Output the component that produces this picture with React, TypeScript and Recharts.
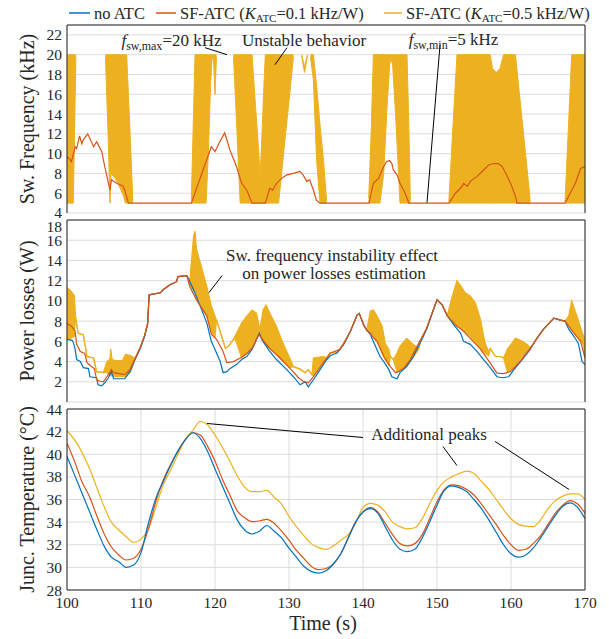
import React from 'react';
import { ComposedChart, Line, Area, XAxis, YAxis, CartesianGrid, ReferenceLine, ReferenceDot } from 'recharts';

// MATLAB default colours
const BLUE = '#0072BD';
const ORANGE = '#D95319';
const YELLOW = '#EDB120';
const AXIS = '#262626';
const GRID = '#dcdcdc';
const SERIF = "'Liberation Serif', 'Times New Roman', serif";
const W = 609;
const H = 639;

const timeTicks = [100, 110, 120, 130, 140, 150, 160, 170];
const freqTicks = [4, 6, 8, 10, 12, 14, 16, 18, 20, 22];
const lossTicks = [2, 4, 6, 8, 10, 12, 14, 16, 18];
const tempTicks = [28, 30, 32, 34, 36, 38, 40, 42, 44];

// ---- switching frequency (kHz) ----
// SF-ATC K=0.1: [t, f]
const freqK01 = [
  [100, 9.7], [100.4, 9.4], [100.6, 9.2], [101.1, 10.7], [101.3, 10.5], [101.7, 11.8], [102.0, 11.0],
  [102.2, 11.4], [102.8, 12.0], [103.6, 10.7], [104.0, 11.2], [104.7, 10.2], [105.1, 8.7], [105.6, 7.0],
  [105.8, 6.3], [106.0, 7.35], [106.7, 7.0], [107.6, 6.7], [107.8, 6.3], [108.3, 5], [116.8, 5],
  [119.5, 10.7], [120.0, 10.2], [120.5, 11.0], [121.3, 12.1], [121.6, 11.4], [122.0, 10.4], [122.9, 8.7],
  [123.6, 7.0], [124.3, 6.3], [125.0, 5], [126.8, 5], [127.4, 6.5], [127.8, 6.3], [128.3, 7.0],
  [129.0, 7.5], [129.7, 7.85], [130.6, 8.0], [131.5, 8.2], [131.9, 7.85], [132.4, 7.2], [132.8, 7.35],
  [133.3, 6.3], [133.7, 5.3], [134.2, 5], [140.8, 5], [141.4, 7.0], [142.1, 7.5], [142.6, 8.35],
  [142.8, 8.7], [143.2, 9.2], [143.6, 9.3], [143.9, 9.0], [144.1, 8.35], [144.6, 7.85], [145.0, 7.0],
  [145.7, 6.0], [146.2, 5], [151.6, 5], [152.5, 6.0], [152.9, 6.3], [153.4, 6.7], [153.6, 7.0],
  [154.1, 6.7], [154.5, 7.2], [155.4, 7.7], [156.3, 8.35], [157.0, 8.85], [157.7, 9.0], [158.3, 9.0],
  [158.8, 8.7], [159.5, 7.7], [160.1, 6.7], [160.6, 5.7], [160.8, 5], [167.3, 5], [168.0, 6.0],
  [168.7, 7.0], [169.4, 8.5], [170, 8.7],
];

// SF-ATC K=0.5: oscillation envelopes [t, low, high], one list per unstable burst
const freqK05Bands = [
  [[100, 5, 20], [100.85, 5, 20], [101.03, 12.5, 20], [101.2, 19.8, 20]],
  [[105.2, 19.8, 20], [105.6, 10.8, 20], [105.8, 5, 20], [105.95, 8, 20], [106.5, 7.5, 20], [107.0, 6.8, 20],
    [107.5, 6.0, 20], [107.9, 5, 20], [108.06, 5, 20], [108.5, 5, 12.5], [108.9, 5, 5.2]],
  [[116.8, 5, 5.3], [117.3, 5, 20], [118.8, 5, 20], [119.1, 10, 20], [119.4, 17, 20], [119.6, 19.6, 20],
    [119.8, 19.6, 20], [120.0, 16, 20], [120.2, 19.8, 20]],
  [[122.5, 19.8, 20], [122.95, 12.5, 20], [123.4, 5, 20], [125.0, 5, 20], [125.5, 5, 14.6], [126.0, 5, 9.2],
    [126.1, 5, 7.7], [126.3, 5, 11], [126.6, 5, 16.7], [126.8, 5, 20], [128.6, 5, 20], [129.0, 8, 20],
    [129.5, 11.7, 20], [130.0, 15.3, 20], [130.6, 19.8, 20]],
  [[131.7, 19.9, 20], [132.1, 18.2, 18.8], [132.5, 19.9, 20]],
  [[132.9, 19.8, 20], [133.29, 17.5, 20], [133.74, 9.2, 16.8], [134.19, 5, 12.9], [134.64, 5, 9.5], [135.09, 5, 5.2]],
  [[140.77, 5, 5.5], [141.1, 5, 12], [141.4, 5, 20], [142.3, 5, 20], [142.8, 8, 20], [143.2, 14, 20],
    [143.6, 19, 20], [143.8, 19.6, 20], [144.0, 19, 20], [144.4, 14, 20], [144.8, 8, 20], [145.0, 5, 20],
    [145.95, 5, 20], [146.2, 5, 12.5], [146.4, 5, 5.2]],
  [[151.6, 5, 5.2], [152.1, 5, 12], [152.7, 5, 20], [157.2, 5, 20], [157.5, 5, 18.6], [158.0, 5, 18.2],
    [158.5, 5, 18.6], [159.0, 5, 20], [160.6, 5, 20], [161.1, 5, 16.3], [161.6, 5, 12.7], [162.1, 5, 9.0],
    [162.6, 5, 5.2]],
  [[167.3, 5, 5.2], [167.75, 5, 12.5], [168.2, 5, 20], [170, 5, 20]],
];

// ---- power losses (W) ----
const lossNoAtc = [
  [100, 6.2], [100.7, 6.1], [100.9, 5.8], [101.1, 5.2], [101.3, 4.2], [101.8, 4.0], [102.2, 3.4], [102.9, 3.3],
  [103.1, 2.5], [104.0, 2.4], [104.2, 1.7], [104.7, 1.6], [105.1, 1.9], [105.6, 2.4], [106.0, 3.0], [106.3, 2.3],
  [107.8, 2.3], [108.5, 3.0], [109.2, 4.2], [109.9, 5.3], [110.5, 6.5], [110.9, 7.7], [111.1, 10.6], [112.6, 10.8],
  [113.0, 11.1], [113.9, 11.6], [114.8, 11.9], [115.0, 12.4], [116.2, 12.5], [116.6, 11.9], [117.1, 11.1],
  [118.0, 9.5], [118.9, 7.8], [119.5, 6.0], [120.0, 5.2], [120.7, 4.0], [121.1, 2.9], [121.6, 3.0], [122.0, 3.3],
  [122.9, 3.7], [123.6, 4.2], [124.3, 4.5], [125.0, 5.2], [125.6, 6.2], [126.0, 6.8], [126.3, 6.2], [127.2, 5.2],
  [128.3, 4.2], [129.7, 3.2], [130.6, 2.5], [131.5, 1.7], [132.2, 2.0], [132.6, 1.5], [133.3, 2.2], [134.2, 3.2],
  [135.1, 4.2], [135.6, 4.6], [136.5, 4.85], [137.4, 5.7], [138.3, 7.0], [139.2, 8.6], [139.5, 8.75], [140.1, 7.6],
  [140.5, 7.1], [141.0, 6.7], [141.2, 6.3], [141.7, 5.5], [142.3, 4.5], [142.8, 4.0], [143.5, 3.2], [143.9, 2.5],
  [144.6, 2.3], [145.0, 2.9], [145.9, 3.5], [146.8, 4.5], [147.7, 5.8], [148.6, 7.2], [149.5, 9.1], [150.0, 10.1],
  [150.7, 9.6], [151.4, 8.5], [152.3, 7.6], [153.2, 6.8], [153.6, 6.0], [154.5, 5.7], [155.4, 5.0], [156.3, 4.2],
  [157.2, 3.4], [158.1, 2.5], [158.8, 2.4], [159.7, 2.5], [160.4, 3.2], [161.3, 4.0], [162.6, 5.2], [163.5, 6.3],
  [164.4, 7.2], [165.8, 8.3], [166.7, 8.1], [167.3, 8.0], [167.8, 7.2], [168.5, 6.5], [169.1, 5.8], [169.6, 4.0],
  [170, 3.7],
];

const lossK01 = [
  [100, 7.75], [100.6, 7.5], [101.1, 7.0], [101.3, 5.7], [101.8, 5.0], [102.4, 4.8], [102.7, 3.9], [103.3, 3.5],
  [103.7, 3.3], [104.0, 2.2], [104.5, 2.05], [104.9, 2.0], [105.4, 2.5], [106.0, 3.2], [106.3, 2.9], [107.8, 2.7],
  [108.5, 3.2], [109.2, 4.3], [109.9, 5.4], [110.5, 6.6], [110.9, 7.8], [111.1, 10.6], [112.6, 10.8], [113.0, 11.1],
  [113.9, 11.6], [114.8, 11.9], [115.0, 12.4], [116.2, 12.5], [116.6, 11.4], [117.5, 10.1], [118.9, 8.5],
  [119.5, 6.7], [120.2, 6.2], [121.1, 5.0], [121.6, 3.9], [122.5, 4.0], [123.4, 4.35], [124.3, 4.8], [125.2, 5.5],
  [125.9, 6.7], [126.3, 6.3], [127.4, 5.3], [128.8, 4.35], [130.1, 3.35], [131.3, 2.4], [131.9, 2.05], [132.6, 1.9],
  [133.3, 2.5], [134.6, 3.85], [135.6, 4.85], [136.9, 5.2], [137.4, 5.8], [138.3, 7.0], [139.2, 8.6], [139.5, 8.75],
  [140.1, 7.6], [140.5, 7.1], [141.0, 6.8], [141.2, 6.55], [141.9, 6.0], [142.8, 4.5], [143.7, 3.5], [144.4, 2.9],
  [144.8, 3.0], [145.5, 3.35], [146.4, 4.2], [147.3, 5.5], [148.6, 7.3], [149.5, 9.1], [150.0, 10.1], [150.7, 9.6],
  [151.4, 8.5], [152.7, 7.5], [153.6, 7.0], [154.5, 6.3], [155.9, 5.2], [157.2, 3.85], [158.1, 2.85], [159.0, 2.8],
  [159.9, 3.0], [160.6, 3.5], [161.3, 4.1], [162.6, 5.3], [163.5, 6.3], [164.4, 7.2], [165.8, 8.3], [166.7, 8.1],
  [167.3, 8.0], [167.8, 7.5], [168.5, 6.8], [169.4, 6.0], [170, 4.35],
];

// K=0.5 losses: [t, low, high] (low == high where the trace is a plain line)
const lossK05 = [
  [100, 6.3, 11.3], [100.5, 6.3, 11.0], [101.0, 6.5, 10.5], [101.15, 8.5, 8.5], [101.5, 6.8, 6.8],
  [102.2, 6.65, 6.65], [102.7, 4.5, 4.5], [103.6, 4.35, 4.35], [104.0, 3.0, 3.0], [104.9, 2.9, 2.9],
  [105.4, 2.9, 4.0], [105.8, 2.6, 4.2], [105.9, 2.6, 5.25], [106.1, 2.6, 4.2], [106.5, 2.5, 4.1],
  [107.5, 2.5, 4.1], [107.9, 2.5, 4.7], [108.6, 3.0, 4.6], [109.2, 4.3, 4.3], [109.9, 5.4, 5.4],
  [110.5, 6.6, 6.6], [110.9, 7.8, 7.8], [111.1, 10.6, 10.6], [112.6, 10.8, 10.8], [113.0, 11.1, 11.1],
  [113.9, 11.6, 11.6], [114.8, 11.9, 11.9], [115.0, 12.4, 12.4], [116.2, 12.5, 12.5], [116.6, 11.6, 12.0],
  [117.1, 11.0, 16.4], [117.3, 10.8, 16.9], [117.5, 10.5, 15.1], [118.0, 9.8, 13.8], [118.9, 8.5, 11.4],
  [119.5, 7.0, 9.5], [120.0, 6.4, 8.5], [120.2, 8.1, 8.1], [120.9, 6.5, 6.5], [121.4, 5.3, 5.3],
  [121.8, 5.5, 5.5], [122.3, 6.0, 6.0], [122.7, 6.3, 6.5], [123.6, 4.35, 7.8], [124.3, 4.8, 8.5],
  [125.0, 5.3, 9.1], [125.6, 6.2, 8.8], [126.0, 6.8, 7.4], [126.1, 6.7, 7.3], [126.5, 6.0, 9.1],
  [126.9, 5.6, 9.6], [127.4, 5.3, 8.8], [128.3, 4.7, 7.5], [129.2, 4.0, 5.8], [130.1, 3.4, 4.35],
  [130.6, 3.5, 3.5], [131.5, 3.25, 3.25], [132.2, 2.9, 2.9], [132.6, 3.2, 3.2], [133.1, 2.7, 2.7],
  [133.3, 2.6, 4.35], [134.6, 3.9, 4.5], [135.1, 4.2, 4.4], [135.5, 4.85, 4.85], [136.5, 4.9, 4.9],
  [137.4, 5.8, 5.8], [138.3, 7.0, 7.0], [139.2, 8.6, 8.6], [139.5, 8.75, 8.75], [140.1, 7.6, 7.6],
  [140.5, 7.1, 7.1], [141.0, 6.8, 9.0], [141.4, 6.4, 9.1], [141.9, 6.0, 8.5], [142.6, 4.8, 7.5],
  [143.0, 4.2, 5.8], [143.5, 3.6, 5.2], [143.7, 4.5, 4.5], [144.1, 4.2, 4.2], [144.6, 3.0, 4.85],
  [145.0, 3.1, 5.5], [145.9, 3.5, 6.3], [146.8, 4.4, 5.7], [147.5, 5.2, 5.3], [147.7, 5.8, 5.8],
  [148.6, 7.3, 7.3], [149.5, 9.1, 9.1], [150.0, 10.1, 10.1], [150.7, 9.6, 9.6], [151.4, 8.5, 8.6],
  [152.0, 8.0, 10.3], [152.7, 7.5, 12.0], [153.4, 7.2, 11.3], [153.8, 7.0, 10.8], [154.5, 6.5, 10.5],
  [155.2, 5.9, 9.8], [155.9, 5.3, 8.1], [156.5, 4.8, 5.8], [157.0, 4.6, 5.0], [157.2, 5.3, 5.3],
  [157.9, 4.5, 4.5], [158.6, 4.5, 4.5], [159.0, 4.35, 4.35], [159.5, 3.0, 5.2], [160.6, 3.5, 6.3],
  [161.0, 4.0, 6.2], [161.5, 4.5, 6.0], [162.2, 5.0, 5.7], [162.6, 5.3, 5.35], [163.5, 6.3, 6.3],
  [164.4, 7.2, 7.2], [165.8, 8.3, 8.3], [166.7, 8.1, 8.1], [167.3, 8.0, 8.0], [167.8, 7.5, 8.5],
  [168.2, 7.1, 10.0], [168.9, 6.6, 8.5], [169.8, 5.6, 6.5], [170, 4.4, 6.3],
];

// ---- junction temperature (°C), one sample per second from 100 s ----
const tempTime = Array.from({ length: 71 }, (_, i) => 100 + i);
const tempNoAtc = [
  39.8, 38.2, 36.6, 35.0, 33.4, 31.9, 30.9, 30.5, 30.0, 30.2,
  31.3, 33.9, 36.1, 37.6, 39.0, 40.3, 41.3, 41.9, 41.4, 40.25,
  38.7, 37.2, 35.7, 34.2, 33.3, 32.95, 33.2, 33.7, 33.2, 32.6,
  31.7, 30.9, 30.1, 29.65, 29.5, 29.7, 30.3, 31.2, 32.6, 34.0,
  34.9, 35.2, 34.8, 33.6, 32.4, 31.6, 31.4, 31.6, 32.6, 34.0,
  35.5, 36.8, 37.2, 37.05, 36.7, 36.0, 35.2, 34.2, 33.1, 32.0,
  31.2, 30.9, 31.1, 31.7, 32.6, 33.6, 34.6, 35.4, 35.7, 35.3,
  34.3,
];
const tempK01 = [
  41.0, 39.4, 37.6, 36.3, 34.6, 33.0, 31.8, 31.1, 30.65, 30.8,
  31.6, 33.4, 35.8, 37.7, 39.1, 40.3, 41.3, 41.9, 41.7, 40.7,
  39.4, 37.8, 36.4, 35.0, 34.4, 34.05, 34.1, 34.25, 33.9, 33.2,
  32.4, 31.5, 30.8, 30.1, 29.8, 29.9, 30.3, 31.2, 32.6, 34.0,
  34.9, 35.3, 34.9, 33.9, 32.9, 32.1, 31.9, 32.1, 32.9, 34.3,
  35.8, 36.9, 37.3, 37.2, 36.9, 36.4, 35.6, 34.7, 33.8, 32.8,
  32.0, 31.5, 31.6, 32.1, 32.8, 33.8, 34.8, 35.5, 35.9, 35.6,
  34.8,
];
const tempK05 = [
  42.1, 41.3, 40.2, 38.8, 37.1, 35.4, 34.0, 33.3, 32.7, 32.2,
  32.5, 33.4, 35.3, 37.3, 38.6, 40.0, 41.3, 42.1, 42.9, 42.6,
  41.7, 40.6, 39.4, 38.1, 37.1, 36.7, 36.7, 36.8, 36.2, 35.6,
  34.5, 33.6, 32.8, 32.1, 31.75, 31.6, 31.9, 32.4, 32.9, 33.9,
  35.3, 35.65, 35.5, 34.9, 34.0, 33.6, 33.4, 33.5, 34.3, 35.6,
  36.8, 37.6, 38.0, 38.3, 38.5, 38.3, 37.6, 36.9, 36.0, 35.1,
  34.3, 33.8, 33.65, 33.6, 34.2, 35.2, 35.9, 36.3, 36.5, 36.5,
  36.0,
];

const pts = (a: number[][]) => a.map(([t, v]) => ({ t, v }));
const band = (a: number[][]) => a.map(([t, lo, hi]) => ({ t, r: [lo, hi] }));
const temps = (vals: number[]) => vals.map((v, i) => ({ t: tempTime[i], v }));

const font = { fontFamily: SERIF };

const yTick = (shift: Record<number, number> = {}) => (p: any) => (
  <text x={p.x} y={p.y + (shift[p.payload.value] || 0)} textAnchor="end" dominantBaseline="central"
    style={font} fontSize={15.5} fill={AXIS}>{p.payload.value}</text>
);

const xTick = (p: any) => (
  <text x={p.x} y={p.y + 8} textAnchor="middle" dominantBaseline="central" style={font} fontSize={15.5} fill={AXIS}>
    {p.payload.value}
  </text>
);

const yTitle = (txt: string) => (p: any) => {
  const cy = p.viewBox.y + p.viewBox.height / 2;
  return (
    <text x={27} y={cy} transform={`rotate(-90, 27, ${cy})`} textAnchor="middle" dominantBaseline="central"
      style={font} fontSize={20} fill={AXIS}>{txt}</text>
  );
};

// annotation text drawn at a data position
const note = (children: React.ReactNode) => (p: any) => (
  <text x={p.cx} y={p.cy + 6} textAnchor="middle" style={font} fontSize={17} fill={AXIS}>{children}</text>
);

const fsw = (sub: string, rest: string) => (
  <>
    <tspan fontStyle="italic">f</tspan>
    <tspan fontSize={12} dy={4}>{sub}</tspan>
    <tspan dy={-4}>{rest}</tspan>
  </>
);

const layer: React.CSSProperties = { position: 'absolute', left: 0, top: 0 };
const seg = { stroke: '#000', strokeWidth: 1, ifOverflow: 'visible' as const };

export default function App() {
  const xProps = {
    dataKey: 't', type: 'number' as const, domain: [100, 170], ticks: timeTicks, allowDataOverflow: true,
    stroke: AXIS, tickLine: false, interval: 0 as const,
  };
  const yProps = {
    type: 'number' as const, width: 67, stroke: AXIS, tickLine: false, tickSize: 0, tickMargin: 5,
    allowDataOverflow: true, interval: 0 as const,
  };

  return (
    <div style={{ position: 'absolute', left: 0, top: 0, width: W, height: H, background: '#fff' }}>
      {/* legend */}
      <svg width={W} height={26} style={layer}>
        <g style={font} fontSize={16.5} fill={AXIS}>
          <line x1={69} x2={90} y1={13} y2={13} stroke={BLUE} strokeWidth={1.5} />
          <text x={94} y={18.5}>no ATC</text>
          <line x1={156} x2={176} y1={13} y2={13} stroke={ORANGE} strokeWidth={1.5} />
          <text x={180} y={18.5}>
            SF-ATC (<tspan fontStyle="italic">K</tspan><tspan fontSize={11} dy={3}>ATC</tspan><tspan dy={-3}>=0.1 kHz/W)</tspan>
          </text>
          <line x1={384} x2={402} y1={13} y2={13} stroke={YELLOW} strokeWidth={1.5} />
          <text x={406} y={18.5}>
            SF-ATC (<tspan fontStyle="italic">K</tspan><tspan fontSize={11} dy={3}>ATC</tspan><tspan dy={-3}>=0.5 kHz/W)</tspan>
          </text>
        </g>
      </svg>

      {/* switching frequency */}
      <div style={layer}>
        <ComposedChart width={W} height={H} margin={{ top: 25, right: 24, bottom: 426, left: 0 }}>
          <CartesianGrid stroke={GRID} />
          <XAxis {...xProps} tick={false} height={0} />
          <YAxis {...yProps} domain={[4, 23]} ticks={freqTicks} tick={yTick({ 4: -1 })} label={yTitle('Sw. Frequency (kHz)')} />
          {freqK05Bands.map((b, i) => (
            <Area key={i} data={band(b)} dataKey="r" type="linear" fill={YELLOW} fillOpacity={1} stroke={YELLOW}
              strokeWidth={1} dot={false} activeDot={false} isAnimationActive={false} />
          ))}
          <Line data={pts(freqK01)} dataKey="v" type="linear" stroke={ORANGE} strokeWidth={1.2} dot={false} isAnimationActive={false} />
          <ReferenceLine y={23} stroke={AXIS} ifOverflow="visible" />
          <ReferenceLine x={170} stroke={AXIS} ifOverflow="visible" />
          <ReferenceLine segment={[{ x: 118.65, y: 20.71 }, { x: 121.62, y: 20.0 }]} {...seg} />
          <ReferenceLine segment={[{ x: 129.73, y: 20.71 }, { x: 128.11, y: 18.99 }]} {...seg} />
          <ReferenceLine segment={[{ x: 150.41, y: 21.01 }, { x: 148.65, y: 5.05 }]} {...seg} />
          <ReferenceDot x={114.12} y={21.5} r={0} ifOverflow="visible" shape={note(fsw('sw,max', '=20 kHz'))} />
          <ReferenceDot x={132.03} y={21.5} r={0} ifOverflow="visible" shape={note('Unstable behavior')} />
          <ReferenceDot x={152.23} y={21.6} r={0} ifOverflow="visible" shape={note(fsw('sw,min', '=5 kHz'))} />
        </ComposedChart>
      </div>

      {/* power losses */}
      <div style={layer}>
        <ComposedChart width={W} height={H} margin={{ top: 220, right: 24, bottom: 237, left: 0 }}>
          <CartesianGrid stroke={GRID} />
          <XAxis {...xProps} tick={false} height={0} />
          <YAxis {...yProps} domain={[0, 18]} ticks={lossTicks} tick={yTick({ 18: 6 })} label={yTitle('Power losses (W)')} />
          <Area data={band(lossK05)} dataKey="r" type="linear" fill={YELLOW} fillOpacity={1} stroke={YELLOW}
            strokeWidth={1.2} dot={false} activeDot={false} isAnimationActive={false} />
          <Line data={pts(lossNoAtc)} dataKey="v" type="linear" stroke={BLUE} strokeWidth={1.2} dot={false} isAnimationActive={false} />
          <Line data={pts(lossK01)} dataKey="v" type="linear" stroke={ORANGE} strokeWidth={1.2} dot={false} isAnimationActive={false} />
          <ReferenceLine y={18} stroke={AXIS} ifOverflow="visible" />
          <ReferenceLine x={170} stroke={AXIS} ifOverflow="visible" />
          <ReferenceLine segment={[{ x: 120.95, y: 12.5 }, { x: 119.19, y: 10.82 }]} {...seg} />
          <ReferenceDot x={135.81} y={14.5} r={0} ifOverflow="visible" shape={note('Sw. frequency instability effect')} />
          <ReferenceDot x={136.08} y={12.8} r={0} ifOverflow="visible" shape={note('on power losses estimation')} />
        </ComposedChart>
      </div>

      {/* junction temperature */}
      <div style={layer}>
        <ComposedChart width={W} height={H} margin={{ top: 409, right: 24, bottom: 0, left: 0 }}>
          <CartesianGrid stroke={GRID} />
          <XAxis {...xProps} height={49} tickSize={0} tickMargin={4} tick={xTick}
            label={(p: any) => (
              <text x={p.viewBox.x + p.viewBox.width / 2 - 3} y={p.viewBox.y + 40} textAnchor="middle"
                style={font} fontSize={20} fill={AXIS}>Time (s)</text>
            )} />
          <YAxis {...yProps} domain={[28, 44]} ticks={tempTicks} tick={yTick()} label={yTitle('Junc. Temperature (°C)')} />
          <Line data={temps(tempK05)} dataKey="v" type="monotone" stroke={YELLOW} strokeWidth={1.2} dot={false} isAnimationActive={false} />
          <Line data={temps(tempK01)} dataKey="v" type="monotone" stroke={ORANGE} strokeWidth={1.2} dot={false} isAnimationActive={false} />
          <Line data={temps(tempNoAtc)} dataKey="v" type="monotone" stroke={BLUE} strokeWidth={1.2} dot={false} isAnimationActive={false} />
          <ReferenceLine y={44} stroke={AXIS} ifOverflow="visible" />
          <ReferenceLine x={170} stroke={AXIS} ifOverflow="visible" />
          <ReferenceLine segment={[{ x: 118.92, y: 42.72 }, { x: 140.0, y: 41.48 }]} {...seg} />
          <ReferenceLine segment={[{ x: 150.81, y: 40.68 }, { x: 152.7, y: 39.0 }]} {...seg} />
          <ReferenceLine segment={[{ x: 157.84, y: 41.13 }, { x: 167.84, y: 36.89 }]} {...seg} />
          <ReferenceDot x={148.92} y={41.75} r={0} ifOverflow="visible" shape={note('Additional peaks')} />
        </ComposedChart>
      </div>
    </div>
  );
}
